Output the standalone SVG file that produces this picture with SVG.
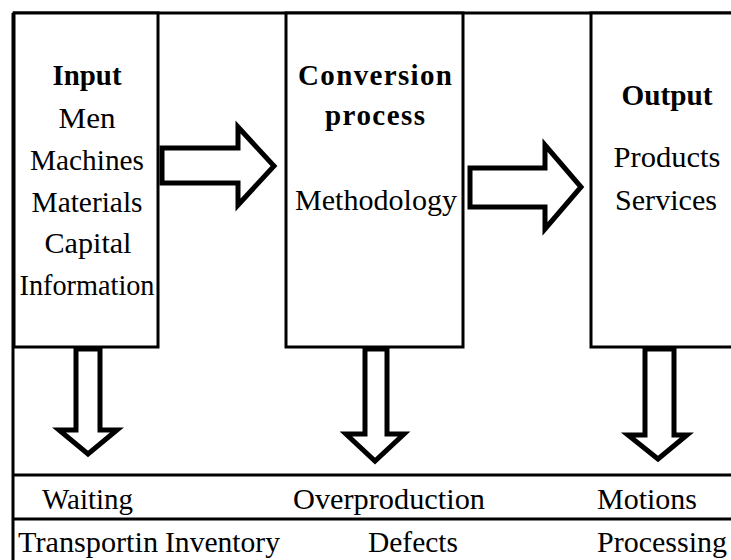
<svg xmlns="http://www.w3.org/2000/svg" width="731" height="560" viewBox="0 0 731 560">
<style>
.box{fill:#fff;stroke:#000;stroke-width:3}
.line{stroke:#000;stroke-width:3;fill:none}
.arrow{fill:#fff;stroke:#000;stroke-width:5;stroke-linejoin:miter;stroke-miterlimit:10}
text{font-family:"Liberation Serif","Times New Roman",serif;font-size:29px;fill:#000}
.b{font-weight:bold}
.m{text-anchor:middle}
</style>
<rect width="731" height="560" fill="#fff"/>
<g id="frame">
<line class="line" x1="13" y1="13" x2="731" y2="13"/>
<line class="line" x1="13" y1="13" x2="13" y2="560"/>
<line class="line" x1="13" y1="475" x2="731" y2="475"/>
<line class="line" x1="13" y1="519" x2="731" y2="519"/>
</g>
<g id="input">
<rect class="box" x="14" y="13" width="144" height="334"/>
<text class="b m" x="87" y="85" textLength="69" lengthAdjust="spacingAndGlyphs">Input</text>
<text class="m" x="87" y="128" textLength="57" lengthAdjust="spacingAndGlyphs">Men</text>
<text class="m" x="87" y="170" textLength="114" lengthAdjust="spacingAndGlyphs">Machines</text>
<text class="m" x="87" y="212" textLength="111" lengthAdjust="spacingAndGlyphs">Materials</text>
<text class="m" x="88" y="253" textLength="87" lengthAdjust="spacingAndGlyphs">Capital</text>
<text class="m" x="87" y="295" textLength="135" lengthAdjust="spacingAndGlyphs">Information</text>
</g>
<g id="conversion">
<rect class="box" x="286" y="13" width="177" height="334"/>
<text class="b m" x="375" y="85" textLength="154">Conversion</text>
<text class="b m" x="375" y="125" textLength="100">process</text>
<text class="m" x="376" y="210" textLength="162" lengthAdjust="spacingAndGlyphs">Methodology</text>
</g>
<g id="output">
<rect class="box" x="591" y="13" width="160" height="334"/>
<text class="b m" x="667" y="105" textLength="91" lengthAdjust="spacingAndGlyphs">Output</text>
<text class="m" x="667" y="167" textLength="107" lengthAdjust="spacingAndGlyphs">Products</text>
<text class="m" x="666" y="210" textLength="102" lengthAdjust="spacingAndGlyphs">Services</text>
</g>
<g id="connectors">
<polygon class="arrow" points="162,148 238,148 238,127 274,166 238,205 238,183 162,183"/>
<polygon class="arrow" points="470,168 545,168 545,145 581,187 545,229 545,207 470,207"/>
<polygon class="arrow" points="76,349 100,349 100,430 117,430 88,454 59,430 76,430"/>
<polygon class="arrow" points="365,349 387,349 387,434 404,434 375,461 346,434 365,434"/>
<polygon class="arrow" points="645,349 674,349 674,435 687,435 658,459 628,435 645,435"/>
</g>
<g id="wastes">
<text x="42" y="509" textLength="91" lengthAdjust="spacingAndGlyphs">Waiting</text>
<text x="293" y="509" textLength="192" lengthAdjust="spacingAndGlyphs">Overproduction</text>
<text x="597" y="509" textLength="100" lengthAdjust="spacingAndGlyphs">Motions</text>
<text x="18" y="552" textLength="140" lengthAdjust="spacingAndGlyphs">Transportin</text>
<text x="165" y="552" textLength="115" lengthAdjust="spacingAndGlyphs">Inventory</text>
<text x="368" y="552" textLength="90" lengthAdjust="spacingAndGlyphs">Defects</text>
<text x="597" y="552" textLength="130" lengthAdjust="spacingAndGlyphs">Processing</text>
</g>
</svg>
